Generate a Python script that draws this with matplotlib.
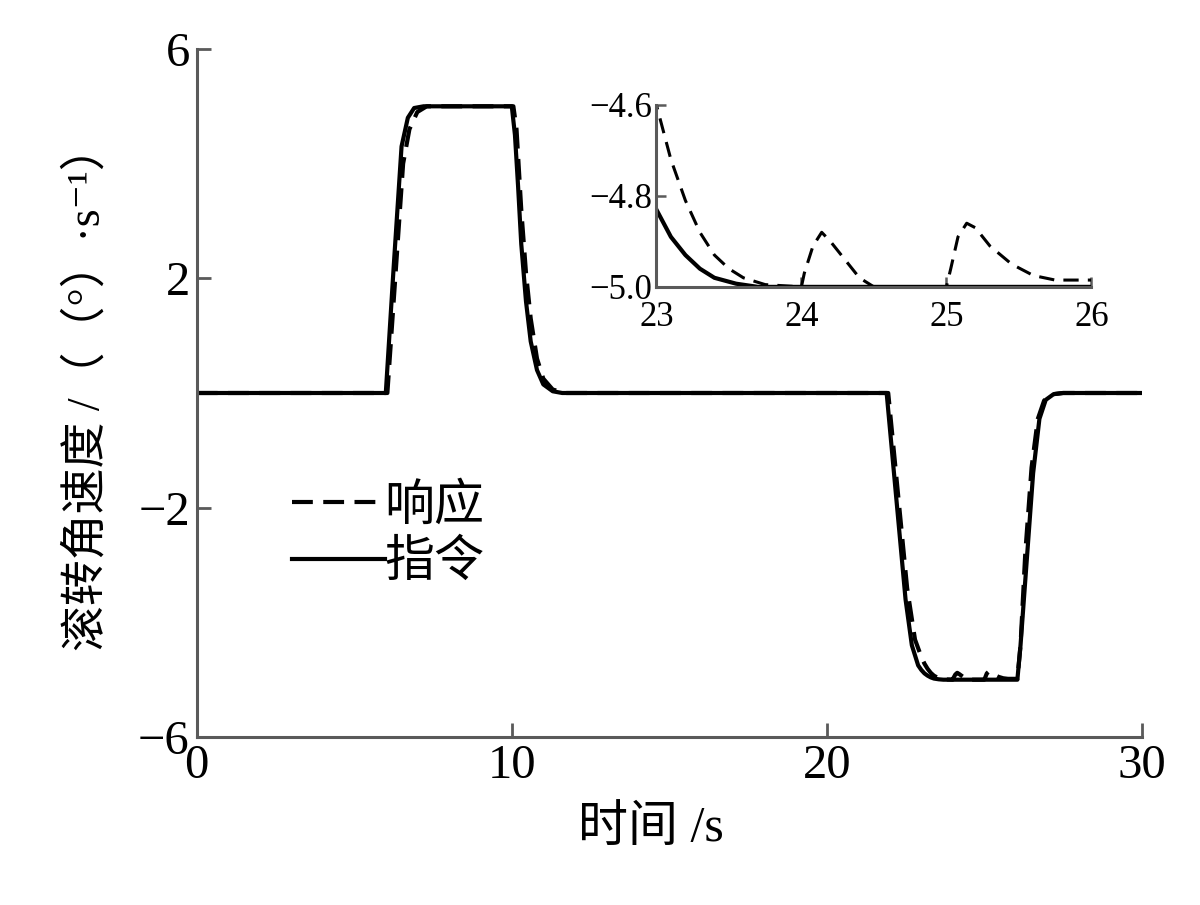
import matplotlib
matplotlib.use("Agg")
import matplotlib.pyplot as plt
from matplotlib.lines import Line2D

plt.rcParams['font.family'] = ['Liberation Serif', 'Noto Sans CJK SC', 'DejaVu Sans']
plt.rcParams['axes.unicode_minus'] = True

# command (指令) roll rate, deg/s
t_cmd = [0, 6.0, 6.25, 6.5, 6.7, 6.9, 7.2, 10.0, 10.1, 10.2, 10.3, 10.45, 10.6, 10.8, 11.0,
         11.3, 11.6, 21.9, 22.2, 22.5, 22.7, 22.9, 23.0, 23.1, 23.2, 23.3, 23.4, 23.55, 23.7,
         26.05, 26.15, 26.35, 26.55, 26.75, 26.95, 27.2, 27.5, 30.0]
w_cmd = [0, 0, 2.2, 4.3, 4.8, 4.97, 5.0, 5.0, 4.5, 3.6, 2.6, 1.6, 0.9, 0.4, 0.15,
         0.03, 0, 0, -1.8, -3.6, -4.4, -4.75, -4.83, -4.89, -4.93, -4.96, -4.98, -4.993, -5.0,
         -5.0, -4.4, -2.9, -1.4, -0.45, -0.12, -0.02, 0, 0]

# response (响应)
t_rsp = [0, 6.05, 6.3, 6.55, 6.75, 7.0, 7.3, 10.05, 10.15, 10.3, 10.45, 10.6, 10.8, 11.0,
         11.3, 11.7, 21.95, 22.25, 22.55, 22.8, 23.0, 23.1, 23.2, 23.3, 23.4, 23.5, 23.6,
         23.75, 24.0, 24.02, 24.08, 24.14, 24.2, 24.3, 24.4, 24.5, 25.0, 25.03, 25.08, 25.14,
         25.2, 25.3, 25.45, 25.6, 25.75, 26.05, 26.15, 26.3, 26.5, 26.7, 26.9, 27.2, 27.5, 30.0]
w_rsp = [0, 0, 2.0, 4.0, 4.6, 4.9, 5.0, 5.0, 4.6, 3.2, 2.1, 1.3, 0.6, 0.25,
         0.06, 0, 0, -1.7, -3.4, -4.3, -4.6, -4.72, -4.81, -4.88, -4.93, -4.96, -4.98,
         -4.995, -5.0, -4.97, -4.91, -4.88, -4.90, -4.94, -4.98, -5.0, -5.0, -4.96, -4.89, -4.86,
         -4.87, -4.91, -4.95, -4.975, -4.985, -4.985, -4.4, -2.8, -1.3, -0.45, -0.13, -0.02, 0, 0]

x_ticks = [0, 10, 20, 30]
y_ticks = [6, 2, -2, -6]
inset_xticks = [23, 24, 25, 26]
inset_yticks = [-4.6, -4.8, -5.0]
inset_ylabels = ['−4.6', '−4.8', '−5.0']

spine_col = '#5a5a5a'
dash = (5, 2.5)

fig = plt.figure(figsize=(12, 9.05), dpi=100)
ax = fig.add_axes([0.164, 0.1856, 0.7875, 0.7603])

ax.plot(t_cmd, w_cmd, color='black', lw=3.0)
ax.plot(t_rsp, w_rsp, color='black', lw=3.0, dashes=dash)

ax.set_xlim(0, 30)
ax.set_ylim(-6, 6)
ax.set_xticks(x_ticks)
ax.set_yticks(y_ticks)
for s in ['top', 'right']:
    ax.spines[s].set_visible(False)
for s in ['left', 'bottom']:
    ax.spines[s].set_color(spine_col)
    ax.spines[s].set_linewidth(2.2)
ax.tick_params(direction='in', length=10, width=2, color=spine_col, labelsize=35, pad=5)
ax.set_xlabel('时间 /s', fontsize=36)
ax.xaxis.set_label_coords(0.48, -0.10)
ax.set_ylabel('滚转角速度 /（（°）·s⁻¹）', fontsize=33)
ax.yaxis.set_label_coords(-0.092, 0.508)

handles = [Line2D([], [], color='black', lw=3.0, dashes=dash),
           Line2D([], [], color='black', lw=3.0)]
fig.legend(handles, ['响应', '指令'], loc='upper left',
           bbox_to_anchor=(292 / 1200, 1 - 484 / 905), frameon=False,
           fontsize=36, handlelength=1.85, handletextpad=0.0, labelspacing=0.2,
           borderpad=0, borderaxespad=0)

# inset
axi = fig.add_axes([0.547, 0.683, 0.3625, 0.201])
axi.plot(t_cmd, w_cmd, color='black', lw=3.0)
axi.plot(t_rsp, w_rsp, color='black', lw=2.2, dashes=(5, 3))
axi.set_xlim(23, 26)
axi.set_ylim(-5.0, -4.6)
axi.set_xticks(inset_xticks)
axi.set_yticks(inset_yticks)
axi.set_yticklabels(inset_ylabels)
for s in ['top', 'right']:
    axi.spines[s].set_visible(False)
for s in ['left', 'bottom']:
    axi.spines[s].set_color(spine_col)
    axi.spines[s].set_linewidth(2.2)
axi.tick_params(direction='in', length=7, width=1.8, color=spine_col, labelsize=25)
axi.tick_params(axis='x', pad=10)
axi.tick_params(axis='y', pad=3)
axi.patch.set_alpha(0)

fig.savefig('out.png', dpi=100)
